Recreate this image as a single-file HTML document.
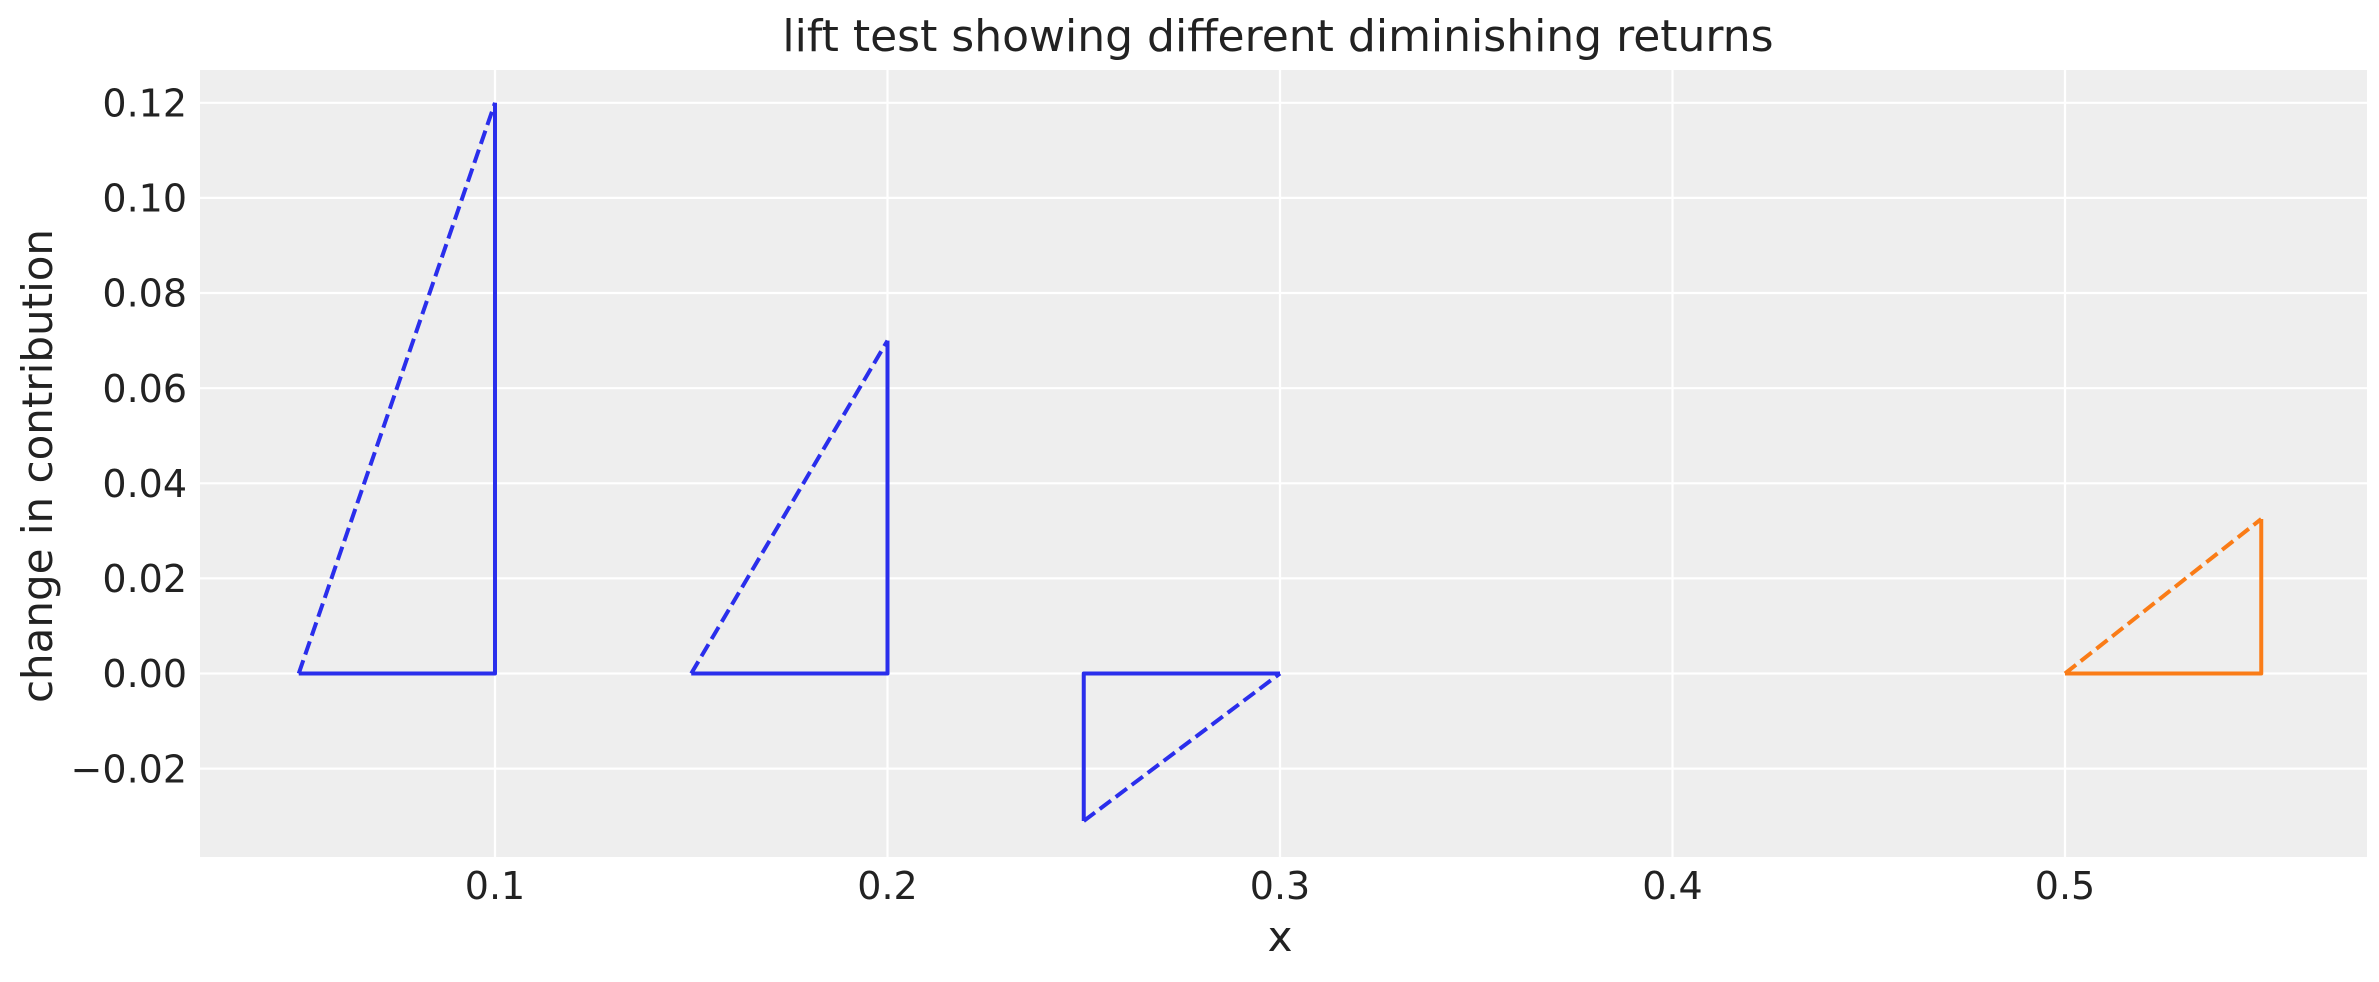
<!DOCTYPE html>
<html><head><style>
html,body{margin:0;padding:0;background:#fff;}
svg text{font-family:"DejaVu Sans","Liberation Sans",sans-serif;fill:#222;}
</style></head><body>
<svg width="2379" height="977" viewBox="0 0 2379 977" xmlns="http://www.w3.org/2000/svg">
<rect x="200" y="70" width="2167" height="787" fill="#eeeeee"/>
<g stroke="#ffffff" stroke-width="2.2">
<line x1="495" y1="70" x2="495" y2="857"/>
<line x1="887.5" y1="70" x2="887.5" y2="857"/>
<line x1="1280" y1="70" x2="1280" y2="857"/>
<line x1="1672.5" y1="70" x2="1672.5" y2="857"/>
<line x1="2065" y1="70" x2="2065" y2="857"/>
<line x1="200" y1="102.8" x2="2367" y2="102.8"/>
<line x1="200" y1="197.9" x2="2367" y2="197.9"/>
<line x1="200" y1="293" x2="2367" y2="293"/>
<line x1="200" y1="388.2" x2="2367" y2="388.2"/>
<line x1="200" y1="483.3" x2="2367" y2="483.3"/>
<line x1="200" y1="578.4" x2="2367" y2="578.4"/>
<line x1="200" y1="673.5" x2="2367" y2="673.5"/>
<line x1="200" y1="768.6" x2="2367" y2="768.6"/>
</g>
<g fill="none" stroke-width="4" stroke-linejoin="round">
<polyline stroke="#2a2eec" points="298.75,673.5 495,673.5 495,102.8"/>
<line stroke="#2a2eec" stroke-dasharray="14,6" x1="298.75" y1="673.5" x2="495" y2="102.8"/>
<polyline stroke="#2a2eec" points="691.25,673.5 887.5,673.5 887.5,340.6"/>
<line stroke="#2a2eec" stroke-dasharray="14,6" x1="691.25" y1="673.5" x2="887.5" y2="340.6"/>
<polyline stroke="#2a2eec" points="1280,673.5 1083.75,673.5 1083.75,821"/>
<line stroke="#2a2eec" stroke-dasharray="14,6" x1="1083.75" y1="821" x2="1280" y2="673.5"/>
<polyline stroke="#fa7c17" points="2065,673.5 2261.25,673.5 2261.25,519"/>
<line stroke="#fa7c17" stroke-dasharray="14,6" x1="2065" y1="673.5" x2="2261.25" y2="519"/>
</g>
<g font-size="38" text-anchor="end">
<text x="187" y="116.5">0.12</text>
<text x="187" y="211.6">0.10</text>
<text x="187" y="306.7">0.08</text>
<text x="187" y="401.9">0.06</text>
<text x="187" y="497">0.04</text>
<text x="187" y="592.1">0.02</text>
<text x="187" y="687.2">0.00</text>
<text x="187" y="782.3">−0.02</text>
</g>
<g font-size="38" text-anchor="middle">
<text x="495" y="899">0.1</text>
<text x="887.5" y="899">0.2</text>
<text x="1280" y="899">0.3</text>
<text x="1672.5" y="899">0.4</text>
<text x="2065" y="899">0.5</text>
<text x="1280" y="951" font-size="42">x</text>
<text x="1278" y="51" font-size="44">lift test showing different diminishing returns</text>
<text transform="translate(52,466) rotate(-90)" font-size="42">change in contribution</text>
</g>
</svg>
</body></html>
